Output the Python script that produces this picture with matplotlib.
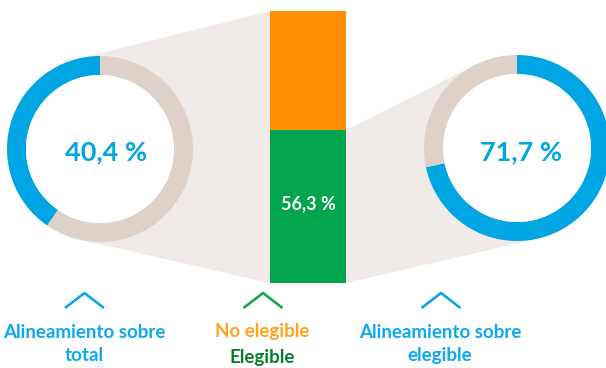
import numpy as np
import matplotlib
matplotlib.use("Agg")
import matplotlib.pyplot as plt
from matplotlib.patches import Polygon, Circle

plt.rcParams["font.family"] = ["Lato", "DejaVu Sans"]

# datos
total_aligned = [40.4, 59.6]      # alineamiento sobre total
eligible_split = [56.3, 43.7]     # elegible / no elegible
eligible_aligned = [71.7, 28.3]   # alineamiento sobre elegible
labels_bottom = ["Alineamiento sobre\ntotal", "No elegible", "Elegible",
                 "Alineamiento sobre\nelegible"]

BLUE = "#00A5E3"; RING = "#DDD1CA"; FAN = "#F0EBE8"
ORANGE = "#FF8F00"; GREEN = "#00A54E"
TXT_BLUE = "#0DA9EE"; TXT_ORANGE = "#FFA21C"; TXT_GREEN = "#0A7C2D"; CHEV_GREEN = "#0BA548"

W, H = 606, 368
fig = plt.figure(figsize=(W / 100, H / 100), dpi=100)
ax = fig.add_axes([0, 0, 1, 1])

R, RW = 93, 19
c_left = (100, H - 149)
c_right = (517, H - 148)
bar_x0, bar_x1 = 270, 346
bar_y0, bar_y1 = H - 283, H - 11
bar_mid = bar_y0 + (bar_y1 - bar_y0) * eligible_split[0] / 100


def tangent(p, c, r, side):
    # punto de tangencia desde p sobre la circunferencia (c, r)
    dx, dy = c[0] - p[0], c[1] - p[1]
    d = np.hypot(dx, dy)
    base = np.arctan2(dy, dx)
    off = np.arcsin(r / d) * side
    L = np.sqrt(d ** 2 - r ** 2)
    return (p[0] + L * np.cos(base + off), p[1] + L * np.sin(base + off))


# abanicos de conexion
pt, pb = (bar_x0, bar_y1), (bar_x0, bar_y0)
ax.add_patch(Polygon([pt, tangent(pt, c_left, R, -1), c_left,
                      tangent(pb, c_left, R, 1), pb], fc=FAN, ec="none", zorder=0))
pt, pb = (bar_x1, bar_mid), (bar_x1, bar_y0)
ax.add_patch(Polygon([pt, tangent(pt, c_right, R, 1), c_right,
                      tangent(pb, c_right, R, -1), pb], fc=FAN, ec="none", zorder=0))

# anillos
ax.pie(total_aligned, colors=[BLUE, RING], startangle=90, counterclock=True,
       center=c_left, radius=R, wedgeprops=dict(width=RW, lw=0), frame=True)
ax.pie(eligible_aligned, colors=[BLUE, RING], startangle=90, counterclock=False,
       center=c_right, radius=R, wedgeprops=dict(width=RW, lw=0), frame=True)
for c in (c_left, c_right):
    ax.add_patch(Circle(c, R - RW, fc="white", ec="none", zorder=3))
ax.set_xlim(0, W); ax.set_ylim(0, H); ax.axis("off")
ax.set_aspect("equal")

ax.text(c_left[0] + 6, c_left[1] - 3, f"{total_aligned[0]:.1f} %".replace(".", ","),
        fontsize=19.5, fontweight="bold", color=BLUE, ha="center", va="center", zorder=4)
ax.text(c_right[0] + 4, c_right[1] - 4, f"{eligible_aligned[0]:.1f} %".replace(".", ","),
        fontsize=19.5, fontweight="bold", color=BLUE, ha="center", va="center", zorder=4)

# barra apilada
axb = fig.add_axes([bar_x0 / W, bar_y0 / H, (bar_x1 - bar_x0) / W, (bar_y1 - bar_y0) / H])
axb.set_xlim(-0.5, 0.5); axb.set_ylim(0, 100); axb.axis("off")
axb.bar(0, eligible_split[0], width=1, color=GREEN, lw=0)
axb.bar(0, eligible_split[1], width=1, bottom=eligible_split[0], color=ORANGE, lw=0)
axb.text(0, eligible_split[0] / 2 + 1, f"{eligible_split[0]:.1f} %".replace(".", ","),
         fontsize=13, fontweight="bold", color="white", ha="center", va="center")

# chevrones
for cx, col in [(84.5, BLUE), (263, CHEV_GREEN), (441, BLUE)]:
    ax.plot([cx - 19.5, cx, cx + 19.5], [H - 308, H - 293, H - 308], color=col,
            lw=1.8, solid_capstyle="butt", zorder=2)

# etiquetas
ax.text(84, H - 344, labels_bottom[0], fontsize=13.5, fontweight="bold", color=TXT_BLUE,
        ha="center", va="center", linespacing=1.4)
ax.text(262, H - 331, labels_bottom[1], fontsize=13.5, fontweight="bold", color=TXT_ORANGE,
        ha="center", va="center")
ax.text(262, H - 357, labels_bottom[2], fontsize=13.5, fontweight="bold", color=TXT_GREEN,
        ha="center", va="center")
ax.text(440, H - 344, labels_bottom[3], fontsize=13.5, fontweight="bold", color=TXT_BLUE,
        ha="center", va="center", linespacing=1.4)

fig.savefig("out.png", dpi=100, facecolor="white")
